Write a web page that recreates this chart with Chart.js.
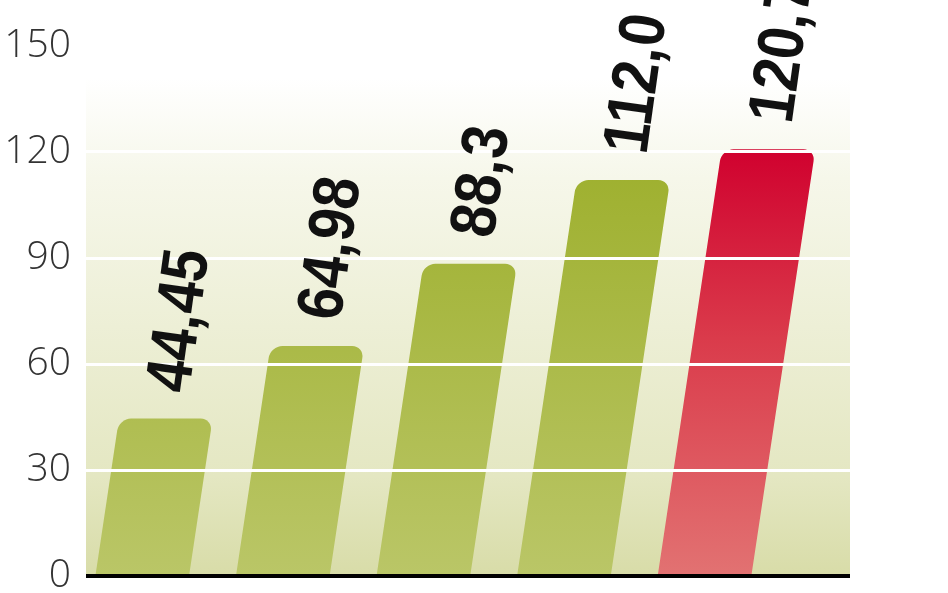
<!DOCTYPE html>
<html>
<head>
<meta charset="utf-8">
<script src="https://cdn.jsdelivr.net/npm/chart.js@4.4.1/dist/chart.umd.min.js"></script>
<style>
    html, body { margin: 0; padding: 0; background: #fff; }
    #wrap { width: 948px; height: 593px; }
</style>
</head>
<body>
<div id="wrap"><canvas id="chart"></canvas></div>
<script>
// Bar positions (the chart prints no category names under the bars)
const categories = [1, 2, 3, 4, 5];
const values = [44.45, 64.98, 88.3, 112.0, 120.7];
const valueLabels = ['44,45', '64,98', '88,3', '112,0', '120,7'];
const yTicks = [0, 30, 60, 90, 120, 150];
const highlightIndex = 4;

// slant of the bars (horizontal px per vertical px)
const SKEW = 0.15;

function barFill(context) {
    const chart = context.chart;
    const area = chart.chartArea;
    const red = context.dataIndex === highlightIndex;
    if (!area) return red ? '#d8243f' : '#a9b840';
    const y = chart.scales.y;
    const g = chart.ctx.createLinearGradient(0, y.getPixelForValue(0), 0, y.getPixelForValue(122));
    if (red) {
        g.addColorStop(0, '#e27272');
        g.addColorStop(0.55, '#da3b4b');
        g.addColorStop(1, '#d0002e');
    } else {
        g.addColorStop(0, '#bac667');
        g.addColorStop(1, '#9daf2c');
    }
    return g;
}

const plotBackground = {
    id: 'plotBackground',
    beforeDraw(chart) {
        const { ctx, chartArea } = chart;
        const y = chart.scales.y;
        const top = y.getPixelForValue(141);
        const g = ctx.createLinearGradient(0, top, 0, chartArea.bottom);
        g.addColorStop(0, '#ffffff');
        g.addColorStop(0.2, '#f6f7ea');
        g.addColorStop(0.5, '#edefd6');
        g.addColorStop(0.8, '#e4e7c2');
        g.addColorStop(1, '#d8dca8');
        ctx.save();
        ctx.fillStyle = g;
        ctx.fillRect(chartArea.left, top, chartArea.right - chartArea.left, chartArea.bottom - top);
        ctx.restore();
    }
};

const slantBars = {
    id: 'slantBars',
    beforeDatasetsDraw(chart) {
        const base = chart.scales.y.getPixelForValue(0);
        chart.ctx.save();
        chart.ctx.transform(1, 0, -SKEW, 1, SKEW * base, 0);
    },
    afterDatasetsDraw(chart) {
        chart.ctx.restore();
    }
};

const barLabels = {
    id: 'barLabels',
    afterDraw(chart) {
        const ctx = chart.ctx;
        const meta = chart.getDatasetMeta(0);
        const size = 65;
        ctx.save();
        ctx.font = 'bold ' + size + 'px "Liberation Sans", Arial, sans-serif';
        ctx.fillStyle = '#111';
        ctx.textAlign = 'left';
        ctx.textBaseline = 'alphabetic';
        meta.data.forEach((bar, i) => {
            const topX = bar.x + SKEW * (bar.base - bar.y);
            const gap = 28;
            ctx.save();
            ctx.translate(topX - 4 + SKEW * gap, bar.y - gap);
            ctx.rotate(-82 * Math.PI / 180);
            ctx.scale(0.88, 1);
            ctx.fillText(valueLabels[i], 0, size * 0.36);
            ctx.restore();
        });
        ctx.restore();
    }
};

new Chart(document.getElementById('chart'), {
    type: 'bar',
    data: {
        datasets: [{
            data: categories.map((c, i) => ({ x: c, y: values[i] })),
            backgroundColor: barFill,
            barThickness: 93,
            borderRadius: { topLeft: 12, topRight: 12, bottomLeft: 0, bottomRight: 0 },
            borderSkipped: 'start'
        }]
    },
    options: {
        responsive: true,
        maintainAspectRatio: false,
        animation: false,
        layout: { padding: { left: 0, right: 98, top: 46, bottom: 17 } },
        plugins: {
            legend: { display: false },
            tooltip: { enabled: false }
        },
        scales: {
            x: {
                type: 'linear',
                display: false,
                offset: false,
                min: 0.6,
                max: 6.035
            },
            y: {
                min: 0,
                max: 150,
                afterBuildTicks(axis) {
                    axis.ticks = yTicks.map(v => ({ value: v }));
                },
                afterFit(axis) {
                    axis.width = 86;
                    axis.paddingTop = 0;
                    axis.paddingBottom = 0;
                },
                border: { display: false },
                grid: {
                    z: 1,
                    drawTicks: false,
                    color: ctx => ctx.tick && ctx.tick.value === 0 ? '#000' : '#ffffff',
                    lineWidth: ctx => ctx.tick && ctx.tick.value === 0 ? 4 : 3
                },
                ticks: {
                    padding: 15,
                    color: '#333',
                    font: { family: '"Open Sans", sans-serif', size: 39, weight: '300' }
                }
            }
        }
    },
    plugins: [plotBackground, slantBars, barLabels]
});
</script>
</body>
</html>
